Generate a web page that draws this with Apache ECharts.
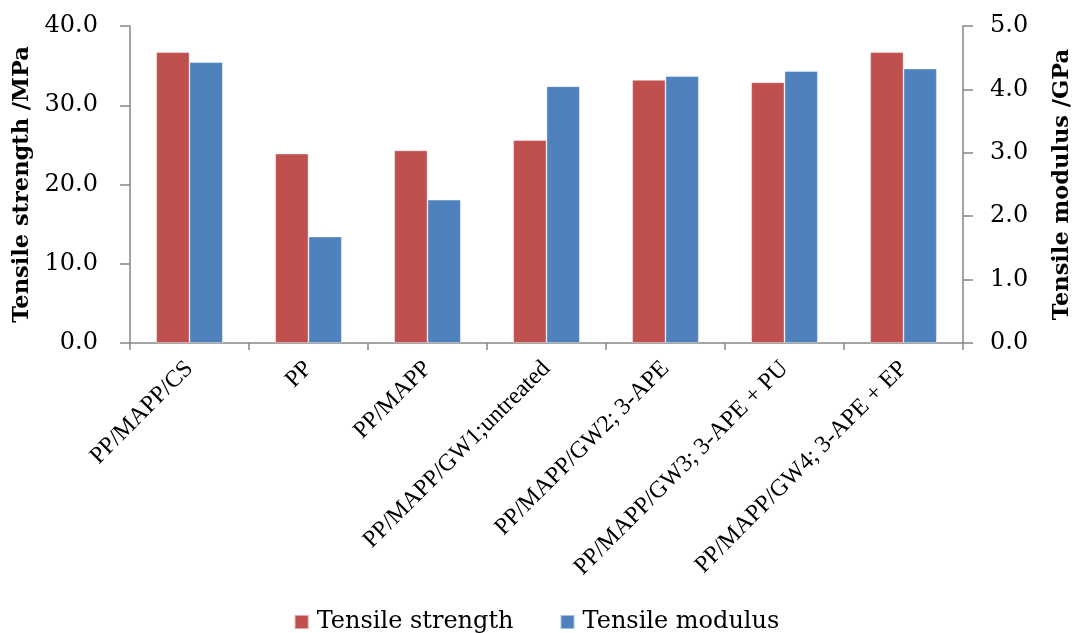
<!DOCTYPE html>
<html><head><meta charset="utf-8">
<script src="https://cdn.jsdelivr.net/npm/echarts@6/dist/echarts.min.js"></script>
<style>html,body{margin:0;padding:0;background:#fff}#c{width:1073px;height:633px}</style>
</head><body><div id="c"></div>
<script>
const categories = ["PP/MAPP/CS","PP","PP/MAPP","PP/MAPP/GW1;untreated","PP/MAPP/GW2; 3-APE","PP/MAPP/GW3; 3-APE + PU","PP/MAPP/GW4; 3-APE + EP"];
const tensileStrength = [36.7, 23.9, 24.3, 25.6, 33.2, 32.9, 36.7];
const tensileModulus = [4.43, 1.68, 2.26, 4.05, 4.21, 4.29, 4.33];
const seriesNames = ["Tensile strength","Tensile modulus"];
const FONT = "DejaVu Serif, serif";
const LFONT = "Liberation Serif, serif";
const axisColor = "#868686";
const chart = echarts.init(document.getElementById('c'));
chart.setOption({
  animation:false,
  legend:{top:605,left:'center',itemWidth:14,itemHeight:14,itemGap:46,icon:'rect',
    textStyle:{fontFamily:FONT,fontSize:24,color:'#000',padding:[0,0,0,3]},data:seriesNames},
  grid:{left:130,right:110,top:26,bottom:290,containLabel:false,outerBoundsMode:'none'},
  xAxis:{type:'category',data:categories,
    axisLine:{lineStyle:{color:axisColor,width:1.5}},
    axisTick:{show:true,length:7,lineStyle:{color:axisColor,width:1.5}},
    axisLabel:{rotate:45,fontFamily:LFONT,fontSize:24,color:'#000',interval:0,margin:22}},
  yAxis:[
    {type:'value',min:0,max:40,interval:10,name:'Tensile strength /MPa',nameLocation:'middle',nameGap:88,
     nameTextStyle:{fontFamily:FONT,fontSize:22.5,fontWeight:'bold',color:'#000'},
     axisLine:{show:true,lineStyle:{color:axisColor,width:1.5}},
     axisTick:{show:true,length:10,lineStyle:{color:axisColor,width:1.5}},
     splitLine:{show:false},
     axisLabel:{fontFamily:FONT,fontSize:24,color:'#000',margin:32,formatter:v=>v.toFixed(1)}},
    {type:'value',min:0,max:5,interval:1,name:'Tensile modulus /GPa',nameLocation:'middle',nameGap:88,
     nameRotate:90,
     nameTextStyle:{fontFamily:FONT,fontSize:22.5,fontWeight:'bold',color:'#000'},
     axisLine:{show:true,lineStyle:{color:axisColor,width:1.5}},
     axisTick:{show:true,length:10,lineStyle:{color:axisColor,width:1.5}},
     splitLine:{show:false},
     axisLabel:{fontFamily:FONT,fontSize:24,color:'#000',margin:27,formatter:v=>v.toFixed(1)}}
  ],
  series:[
    {name:seriesNames[0],type:'bar',yAxisIndex:0,data:tensileStrength,barGap:'0%',barCategoryGap:'44%',
     itemStyle:{color:'#C0504D',borderColor:'rgba(255,255,255,0.5)',borderWidth:0.8}},
    {name:seriesNames[1],type:'bar',yAxisIndex:1,data:tensileModulus,barGap:'0%',barCategoryGap:'44%',
     itemStyle:{color:'#4F81BD',borderColor:'rgba(255,255,255,0.5)',borderWidth:0.8}}
  ]
});
</script></body></html>
